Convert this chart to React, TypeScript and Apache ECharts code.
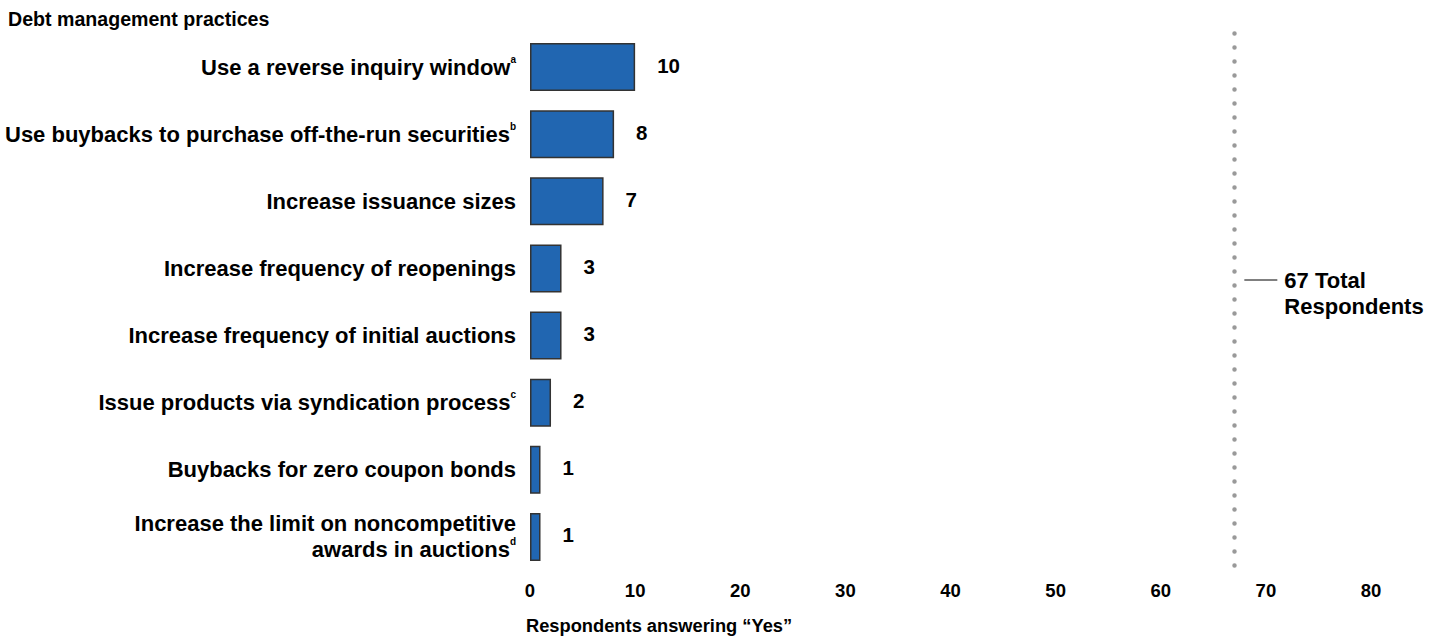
import React, { useEffect, useRef } from "react";
import * as echarts from "echarts";

const categories: string[] = [
  "Use a reverse inquiry window",
  "Use buybacks to purchase off-the-run securities",
  "Increase issuance sizes",
  "Increase frequency of reopenings",
  "Increase frequency of initial auctions",
  "Issue products via syndication process",
  "Buybacks for zero coupon bonds",
  "Increase the limit on noncompetitive\nawards in auctions",
];
const footnotes: string[] = ["a", "b", "", "", "", "c", "", "d"];
const values: number[] = [10, 8, 7, 3, 3, 2, 1, 1];
const totalRespondents = 67;
const xTicks = { min: 0, max: 80, interval: 10 };
const titleText = "Debt management practices";
const xAxisName = "Respondents answering \u201cYes\u201d";
const totalLabel = ["67 Total", "Respondents"];

const FONT = "'Liberation Sans', Arial, Helvetica, sans-serif";

export default function App() {
  const ref = useRef<HTMLDivElement>(null);
  useEffect(() => {
    if (!ref.current) return;
    const chart = echarts.init(ref.current, null, { renderer: "svg" });
    const labelMap: Record<string, string> = {};
    categories.forEach((c, i) => {
      labelMap[c] = footnotes[i] ? `${c}{sup|${footnotes[i]}}` : c;
    });
    chart.setOption({
      animation: false,
      textStyle: { fontFamily: FONT },
      title: {
        text: titleText,
        left: 8,
        top: 9,
        padding: 0,
        textStyle: { fontSize: 19.6, fontWeight: "bold", color: "#000", fontFamily: FONT },
      },
      grid: { left: 530, right: 69, top: 33.5, bottom: 66.5, containLabel: false },
      xAxis: {
        type: "value",
        min: xTicks.min,
        max: xTicks.max,
        interval: xTicks.interval,
        axisLine: { show: false },
        axisTick: { show: false },
        splitLine: { show: false },
        axisLabel: { fontSize: 18.5, fontWeight: "bold", color: "#000", margin: 10, fontFamily: FONT },
      },
      yAxis: {
        type: "category",
        data: categories,
        inverse: true,
        axisLine: { show: false },
        axisTick: { show: false },
        axisLabel: {
          fontSize: 22,
          fontWeight: "bold",
          color: "#000",
          lineHeight: 26,
          margin: 14,
          align: "right",
          fontFamily: FONT,
          formatter: (v: string) => labelMap[v] ?? v,
          rich: {
            sup: { fontSize: 10, fontWeight: "bold", color: "#000", verticalAlign: "top", lineHeight: 18, fontFamily: FONT },
          },
        },
      },
      series: [
        {
          type: "bar",
          data: values,
          barWidth: 48,
          itemStyle: { color: "#2166B1", borderColor: "#333", borderWidth: 1.5 },
          label: {
            show: true,
            position: "right",
            distance: 22,
            offset: [0, -2],
            fontSize: 20.5,
            fontWeight: "bold",
            color: "#000",
            fontFamily: FONT,
          },
          markLine: {
            silent: true,
            symbol: "none",
            label: { show: false },
            lineStyle: { color: "#999", width: 4.5, type: [0, 14], cap: "round" },
            data: [{ xAxis: totalRespondents }],
          },
        },
      ],
    });
    const px = chart.convertToPixel({ xAxisIndex: 0 }, totalRespondents) as number;
    chart.setOption({
      graphic: [
        {
          type: "line",
          shape: { x1: px + 10, y1: 280, x2: px + 43, y2: 280 },
          style: { stroke: "#000", lineWidth: 1 },
        },
        {
          type: "text",
          x: px + 50,
          y: 280,
          style: { text: totalLabel[0], fontSize: 22, fontWeight: "bold", fill: "#000", verticalAlign: "middle", fontFamily: FONT },
        },
        {
          type: "text",
          x: px + 50,
          y: 306,
          style: { text: totalLabel[1], fontSize: 22, fontWeight: "bold", fill: "#000", verticalAlign: "middle", fontFamily: FONT },
        },
        {
          type: "text",
          x: 526,
          y: 625,
          style: { text: xAxisName, fontSize: 18.3, fontWeight: "bold", fill: "#000", verticalAlign: "middle", fontFamily: FONT },
        },
      ],
    });
    return () => chart.dispose();
  }, []);
  return <div ref={ref} style={{ position: "absolute", left: 0, top: 0, width: 1440, height: 637 }} />;
}
